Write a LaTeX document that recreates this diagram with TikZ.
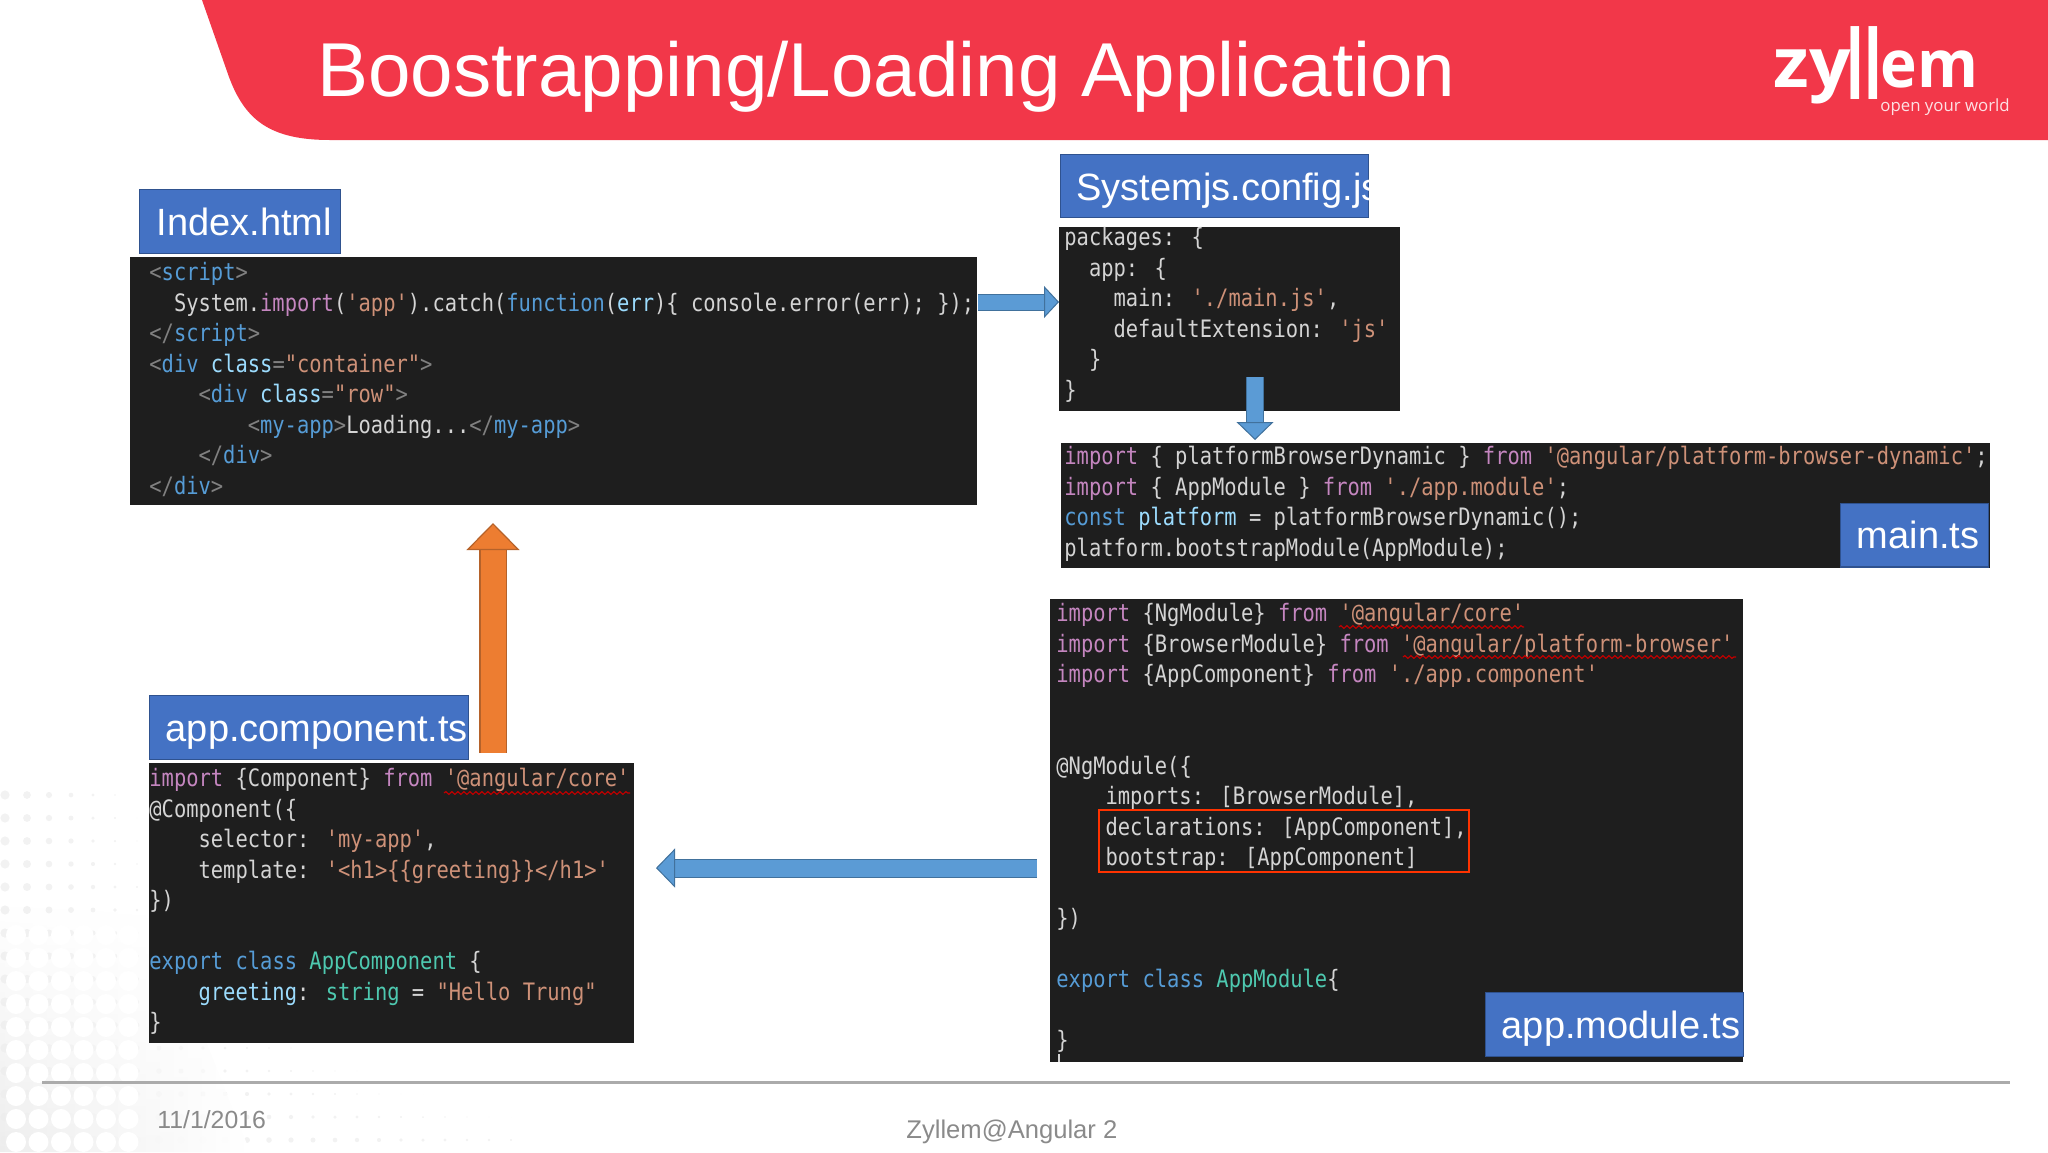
\documentclass[tikz,border=0pt]{standalone}
\usepackage{fontspec}
\usepackage{graphicx}
\setmainfont{Liberation Sans}
\newfontfamily\codefont[FakeStretch=0.852]{DejaVu Sans Mono}
\newfontfamily\logofont{Open Sans}
\usetikzlibrary{arrows.meta,decorations.pathmorphing,fadings}

\definecolor{headred}{HTML}{F23749}
\definecolor{boxblue}{HTML}{4472C4}
\definecolor{boxedge}{HTML}{2F528F}
\definecolor{codebg}{HTML}{1E1E1E}
\definecolor{codefg}{HTML}{D4D4D4}
\definecolor{arrowblue}{HTML}{5B9BD5}
\definecolor{arrowedge}{HTML}{41719C}
\definecolor{arroworange}{HTML}{ED7D31}
\definecolor{orangeedge}{HTML}{B5622A}
\definecolor{footgrey}{HTML}{8A8A8A}

\newcommand{\gy}[1]{\textcolor[HTML]{808080}{#1}}
\newcommand{\bl}[1]{\textcolor[HTML]{569CD6}{#1}}
\newcommand{\st}[1]{\textcolor[HTML]{CE9178}{#1}}
\newcommand{\pu}[1]{\textcolor[HTML]{C586C0}{#1}}
\newcommand{\te}[1]{\textcolor[HTML]{4EC9B0}{#1}}
\newcommand{\lb}[1]{\textcolor[HTML]{9CDCFE}{#1}}
\newcommand{\ind}[1]{\hspace*{#1\dimexpr 6.15pt\relax}}

\tikzstyle{codepanel} = [rectangle, anchor=north west, inner sep=0pt, fill=codebg]
\tikzstyle{codetext}  = [anchor=north west, inner sep=0pt, align=left, text=codefg, font=\codefont\fontsize{12pt}{15.25pt}\selectfont, execute at begin node=\rule{0pt}{10pt}]
\tikzstyle{namebox}   = [rectangle, anchor=north west, inner xsep=8.1pt, inner ysep=0pt, fill=boxblue, draw=boxedge, line width=0.6pt, text=white, align=left, font=\fontsize{19pt}{22pt}\selectfont, text height=13.5pt, text depth=0pt]
\tikzstyle{bluearrow} = [draw=arrowedge, line width=0.5pt, double=arrowblue]
\tikzstyle{squiggle}  = [draw=red!75!black, line width=0.6pt, decorate, decoration={snake, amplitude=0.7pt, segment length=3pt}]

\begin{document}
\begin{tikzpicture}[x=0.5pt,y=-0.5pt]
    \useasboundingbox (0,0) rectangle (2048,1152);

    % dots in the corner
    \foreach \r in {0,...,15} {
        \foreach \c in {0,...,23} {
            \pgfmathsetmacro{\rad}{max(0,4.6-\c*(0.75-0.04*\r))}
            \fill[black!5] (5+22*\c,795+23*\r) circle (\rad);
        }
    }
    \shade[left color=black!7, right color=white, path fading=north] (0,900) -- (150,900) -- (250,1152) -- (0,1152) -- cycle;
    \foreach \r in {6,...,15} {
        \foreach \c in {0,...,5} {
            \fill[white] (16+22.5*\c,935+23*\r-138) circle (10);
        }
    }

    % header
    \fill[headred] (202,0) -- (229,77) .. controls (245,120) and (270,140) .. (330,140) -- (2048,140) -- (2048,0) -- cycle;
    \node[anchor=base west, inner sep=0pt, text=white, font=\fontsize{38.2pt}{40pt}\selectfont] (title) at (317,96) {Boostrapping/Loading Application};
    \node[anchor=base east, inner sep=0pt, text=white, font=\logofont\bfseries\fontsize{34.5pt}{36pt}\selectfont] (logozy) at (1851,87) {\scalebox{1.06}[1]{zy}};
    \node[anchor=base west, inner sep=0pt, text=white, font=\logofont\bfseries\fontsize{32pt}{34pt}\selectfont] (logoll) at (1846,99) {\scalebox{0.9}[1.5]{ll}};
    \node[anchor=base west, inner sep=0pt, text=white, font=\logofont\bfseries\fontsize{33pt}{34pt}\selectfont] (logoem) at (1880,87) {\scalebox{0.94}[1]{em}};
    \node[anchor=base west, inner sep=0pt, text=white!85!headred, font=\logofont\fontsize{8.4pt}{10pt}\selectfont] (logotag) at (1880,111) {open your world};

    % index.html
    \node[namebox, minimum width=100.5pt, minimum height=32pt, text width=83.5pt] (indexname) at (139,189) {Index.html};
    \node[codepanel, minimum width=423.5pt, minimum height=124pt] (indexpanel) at (130,257) {};
    \node[codetext] (indexcode) at (149,262) {\gy{<}\bl{script}\gy{>}\\
        \ind{2}System.\pu{import}(\st{'app'}).catch(\bl{function}(\lb{err})\{ console.error(err); \});\\
        \gy{</}\bl{script}\gy{>}\\
        \gy{<}\bl{div} \lb{class}\gy{=}\st{"container"}\gy{>}\\
        \ind{4}\gy{<}\bl{div} \lb{class}\gy{=}\st{"row"}\gy{>}\\
        \ind{8}\gy{<}\bl{my-app}\gy{>}Loading...\gy{</}\bl{my-app}\gy{>}\\
        \ind{4}\gy{</}\bl{div}\gy{>}\\
        \gy{</}\bl{div}\gy{>}};

    % systemjs.config.js
    \node[namebox, minimum width=154pt, minimum height=31.5pt, text width=137pt] (sysname) at (1060,154) {};
    \begin{scope}
        \clip (1060,154) rectangle (1368,217);
        \node[anchor=base west, inner sep=0pt, text=white, font=\fontsize{19pt}{22pt}\selectfont] (systext) at (1076,200) {Systemjs.config.js};
    \end{scope}
    \node[codepanel, minimum width=170.5pt, minimum height=92pt] (syspanel) at (1059,227) {};
    \node[codetext] (syscode) at (1064,227) {packages: \{\\
        \ind{2}app: \{\\
        \ind{4}main: \st{'./main.js'},\\
        \ind{4}defaultExtension: \st{'js'}\\
        \ind{2}\}\\
        \}};

    % main.ts
    \node[codepanel, minimum width=464.5pt, minimum height=62.5pt] (mainpanel) at (1061,443) {};
    \node[codetext] (maincode) at (1064,446) {\pu{import} \{ platformBrowserDynamic \} \pu{from} \st{'@angular/platform-browser-dynamic'};\\
        \pu{import} \{ AppModule \} \pu{from} \st{'./app.module'};\\
        \bl{const} \lb{platform} = platformBrowserDynamic();\\
        platform.bootstrapModule(AppModule);};
    \node[namebox, minimum width=74pt, minimum height=31.7pt, text width=57.8pt] (mainname) at (1840,503) {main.ts};

    % app.module.ts
    \node[codepanel, minimum width=346.5pt, minimum height=231.5pt] (modpanel) at (1050,599) {};
    \node[codetext] (modcode) at (1056,603) {\pu{import} \{NgModule\} \pu{from} \st{'@angular/core'}\\
        \pu{import} \{BrowserModule\} \pu{from} \st{'@angular/platform-browser'}\\
        \pu{import} \{AppComponent\} \pu{from} \st{'./app.component'}\\
        ~\\
        ~\\
        @NgModule(\{\\
        \ind{4}imports: [BrowserModule],\\
        \ind{4}declarations: [AppComponent],\\
        \ind{4}bootstrap: [AppComponent]\\
        ~\\
        \})\\
        ~\\
        \bl{export} \bl{class} \te{AppModule}\{\\
        ~\\
        \}};
    \draw[squiggle] (1339,627) -- (1524,627);
    \draw[squiggle] (1403,657) -- (1736,657);
    \draw[draw=red!60!orange, line width=1pt] (1099,810) rectangle (1469,872);
    \draw[codefg, line width=0.6pt] (1059,1054) -- (1059,1062);
    \node[namebox, minimum width=129pt, minimum height=32pt, text width=112.8pt] (modname) at (1485,992) {app.module.ts};

    % app.component.ts
    \node[namebox, minimum width=159.5pt, minimum height=32pt, text width=143.3pt] (compname) at (149,695) {\mbox{app.component.ts}};
    \node[codepanel, minimum width=242.5pt, minimum height=140pt] (comppanel) at (149,763) {};
    \node[codetext] (compcode) at (149,768) {\pu{import} \{Component\} \pu{from} \st{'@angular/core'}\\
        @Component(\{\\
        \ind{4}selector: \st{'my-app'},\\
        \ind{4}template: \st{'<h1>\{\{greeting\}\}</h1>'}\\
        \})\\
        ~\\
        \bl{export} \bl{class} \te{AppComponent} \{\\
        \ind{4}\lb{greeting}: \te{string} = \st{"Hello Trung"}\\
        \}};
    \draw[squiggle] (444,793) -- (630,793);

    % arrows
    \coordinate (sysin) at (1059,302);
    \coordinate (syscut) at (1255,377);
    \coordinate (mainin) at (1255,440);
    \coordinate (modout) at (1037,868);
    \coordinate (compin) at (656,868);
    \coordinate (compup) at (493,753);
    \coordinate (indexin) at (493,523);
    \draw[bluearrow, double distance=7.5pt, -{Triangle[length=7.5pt, width=16pt, color=arrowedge, fill=arrowblue, line width=0.5pt]}] (indexpanel.east |- sysin) -- (sysin);
    \draw[bluearrow, double distance=8pt, -{Triangle[length=9pt, width=18.5pt, color=arrowedge, fill=arrowblue, line width=0.5pt]}] (syscut) -- (mainin);
    \draw[bluearrow, double distance=8.5pt, -{Triangle[length=9.5pt, width=19.5pt, color=arrowedge, fill=arrowblue, line width=0.5pt]}] (modout) -- (compin);
    \draw[draw=orangeedge, line width=0.6pt, double=arroworange, double distance=12.5pt, -{Triangle[length=13.5pt, width=26.5pt, color=orangeedge, fill=arroworange, line width=0.6pt]}] (compup) -- (indexin);

    % footer
    \draw[draw=black!33, line width=1.5pt] (42,1082) -- (2010,1082);
    \node[anchor=base west, inner sep=0pt, text=footgrey, font=\fontsize{12.4pt}{14pt}\selectfont] (datetext) at (157,1128) {11/1/2016};
    \node[anchor=base west, inner sep=0pt, text=footgrey, font=\fontsize{12.8pt}{14pt}\selectfont] (foottext) at (906,1138) {Zyllem@Angular 2};
\end{tikzpicture}
\end{document}
